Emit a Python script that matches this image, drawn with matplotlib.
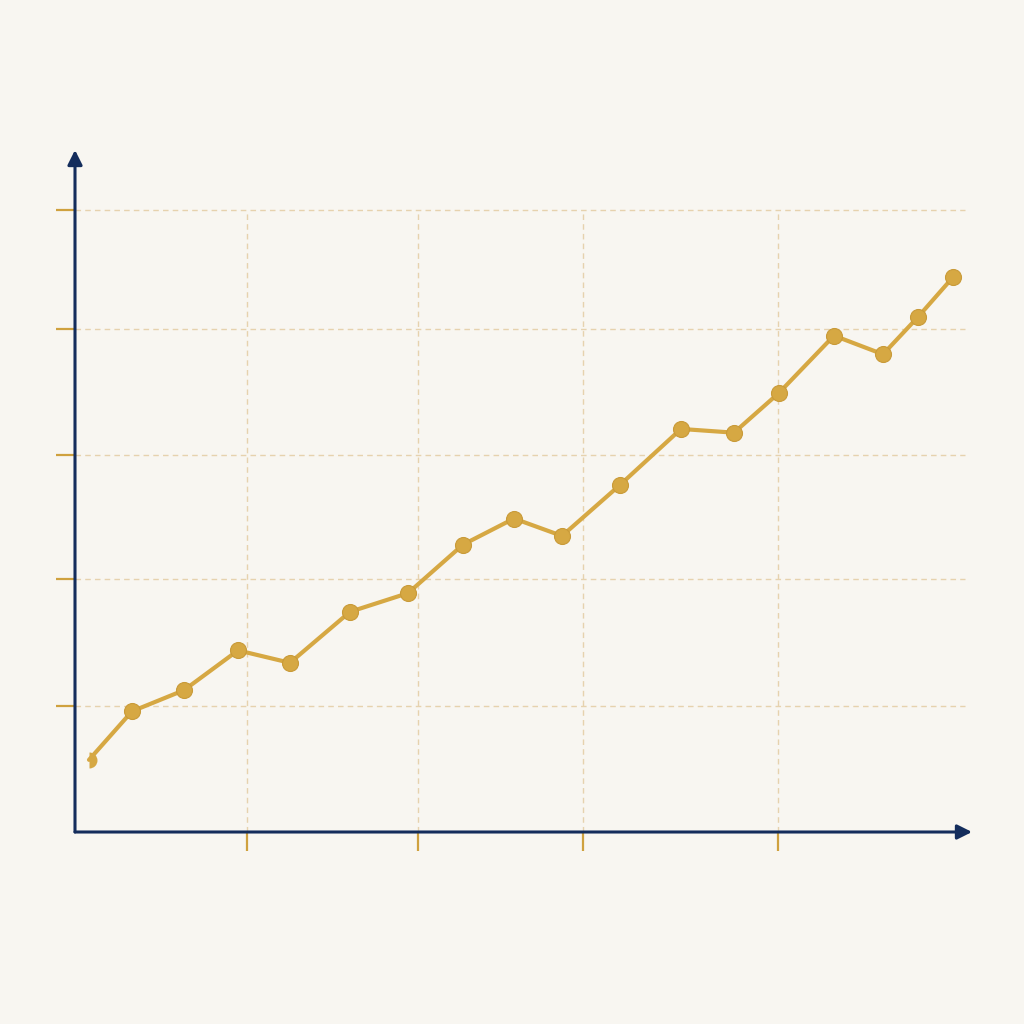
import matplotlib.pyplot as plt

# values (x in arbitrary units, y in grid steps)
x_vals = [0.14, 0.57, 1.09, 1.63, 2.15, 2.75, 3.33, 3.88, 4.39, 4.87,
          5.45, 6.06, 6.59, 7.04, 7.59, 8.08, 8.43, 8.78]
y_vals = [0.58, 0.97, 1.14, 1.46, 1.36, 1.77, 1.92, 2.31, 2.52, 2.38,
          2.79, 3.24, 3.21, 3.53, 3.99, 3.84, 4.14, 4.46]
x_ticks = [1.72, 3.43, 5.08, 7.03]
y_ticks = [1.01, 2.03, 3.03, 4.04, 5.0]

bg = '#f8f6f1'
navy = '#142d5c'
gold = '#d6a843'
grid = '#e6d2ae'

fig = plt.figure(figsize=(10.24, 10.24), dpi=100, facecolor=bg)
ax = fig.add_axes([75 / 1024, 192 / 1024, 897 / 1024, 682 / 1024])
ax.set_facecolor(bg)
ax.set_xlim(0, 8.97)
ax.set_ylim(0, 682 / 124.4)

# dashed grid, drawn by hand so it stops short of the arrows
ax.hlines(y_ticks, 0, 8.9, colors=grid, linestyles=(0, (4, 3)), lw=1, zorder=1)
ax.vlines(x_ticks, 0, y_ticks[-1], colors=grid, linestyles=(0, (4, 3)), lw=1, zorder=1)

for s in ax.spines.values():
    s.set_visible(False)

ax.set_xticks(x_ticks)
ax.set_yticks(y_ticks)
ax.tick_params(axis='both', direction='out', length=14, width=1.6,
               colors='#cfa13e', labelbottom=False, labelleft=False)

# axes with arrow heads
ax.annotate('', xy=(0, 1), xytext=(0, 0), xycoords='axes fraction',
            arrowprops=dict(arrowstyle='-|>', color=navy, lw=2.2,
                            mutation_scale=22, shrinkA=0, shrinkB=0), zorder=5)
ax.annotate('', xy=(1, 0), xytext=(0, 0), xycoords='axes fraction',
            arrowprops=dict(arrowstyle='-|>', color=navy, lw=2.2,
                            mutation_scale=22, shrinkA=0, shrinkB=0), zorder=5)

ax.plot(x_vals, y_vals, color=gold, lw=3, zorder=3, solid_capstyle='round')
ax.plot(x_vals[1:], y_vals[1:], 'o', color=gold, ms=11.5,
        markeredgecolor='#c99a38', markeredgewidth=0.8, zorder=4)
# first point is cut in half at the edge
ax.plot(x_vals[:1], y_vals[:1], 'o', color=gold, ms=11.5, fillstyle='right',
        markerfacecoloralt='none', markeredgewidth=0, zorder=4)

fig.savefig('out.png', dpi=100, facecolor=bg)
